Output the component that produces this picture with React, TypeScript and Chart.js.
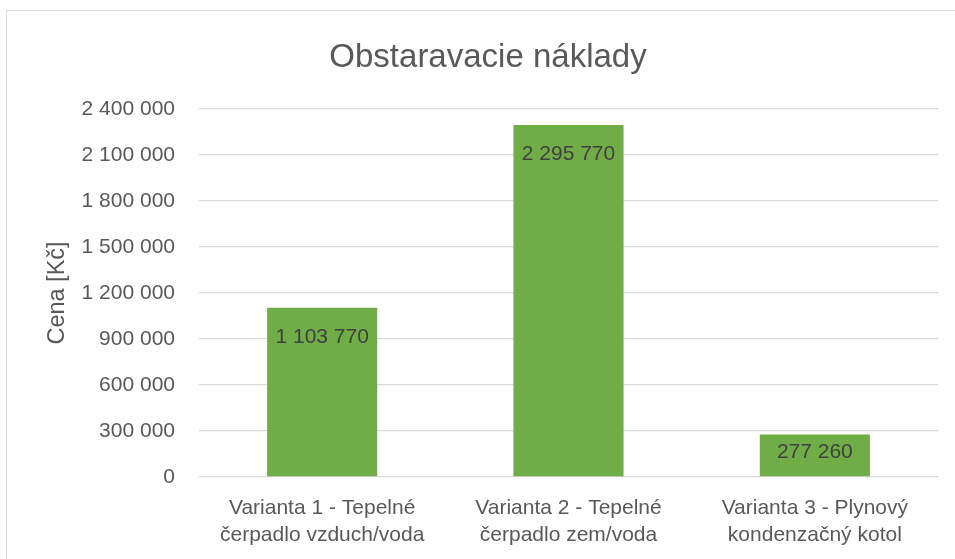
import React, { useEffect, useRef } from "react";
import { Chart, registerables } from "chart.js";

Chart.register(...registerables);

const categories: string[][] = [
  ["Varianta 1 - Tepelné", "čerpadlo vzduch/voda"],
  ["Varianta 2 - Tepelné", "čerpadlo zem/voda"],
  ["Varianta 3 - Plynový", "kondenzačný kotol"],
];
const values: number[] = [1103770, 2295770, 277260];
const yTicks: number[] = [0, 300000, 600000, 900000, 1200000, 1500000, 1800000, 2100000, 2400000];
const titleText = "Obstaravacie náklady";
const yAxisTitle = "Cena [Kč]";

const FONT = "'Liberation Sans', Arial, sans-serif";

function fmt(v: number): string {
  return String(Math.round(v)).replace(/\B(?=(\d{3})+(?!\d))/g, " ");
}

const decorPlugin = {
  id: "decor",
  beforeDraw(chart: any) {
    const ctx = chart.ctx;
    ctx.save();
    ctx.fillStyle = "#ffffff";
    ctx.fillRect(0, 0, chart.width, chart.height);
    ctx.strokeStyle = "#D9D9D9";
    ctx.lineWidth = 1;
    ctx.strokeRect(6.5, 10.5, chart.width + 10, chart.height + 10);
    ctx.fillStyle = "#595959";
    ctx.font = `33px ${FONT}`;
    ctx.textAlign = "center";
    ctx.textBaseline = "alphabetic";
    ctx.fillText(titleText, 488, 67);
    ctx.restore();
  },
  afterDatasetsDraw(chart: any) {
    const ctx = chart.ctx;
    const meta = chart.getDatasetMeta(0);
    ctx.save();
    ctx.fillStyle = "#404040";
    ctx.font = `21px ${FONT}`;
    ctx.textAlign = "center";
    ctx.textBaseline = "middle";
    meta.data.forEach((bar: any, i: number) => {
      const h = bar.base - bar.y;
      const off = Math.min(29, h * 0.42);
      ctx.fillText(fmt(values[i]), bar.x, bar.y + off);
    });
    ctx.restore();
  },
};

export default function App() {
  const ref = useRef<HTMLCanvasElement | null>(null);
  useEffect(() => {
    if (!ref.current) return;
    const chart = new Chart(ref.current, {
      type: "bar",
      data: {
        labels: categories,
        datasets: [
          {
            data: values,
            backgroundColor: "#70AD47",
            borderWidth: 0,
            barPercentage: 0.447,
            categoryPercentage: 1,
          },
        ],
      },
      options: {
        animation: false,
        responsive: false,
        maintainAspectRatio: false,
        layout: { padding: { top: 109, right: 17, left: 0, bottom: 0 } },
        plugins: {
          legend: { display: false },
          title: { display: false },
          tooltip: { enabled: false },
        },
        scales: {
          x: {
            grid: { display: false, drawTicks: false },
            border: { display: false },
            ticks: {
              color: "#595959",
              font: { family: FONT, size: 21, lineHeight: 1.27 },
              padding: 18,
              maxRotation: 0,
              autoSkip: false,
            },
            afterFit(scale: any) {
              scale.height = 82;
            },
          },
          y: {
            min: 0,
            max: 2400000,
            afterBuildTicks(scale: any) {
              scale.ticks = yTicks.map((v) => ({ value: v }));
            },
            grid: { color: "#D9D9D9", lineWidth: 1.3, drawTicks: false },
            border: { display: false },
            ticks: {
              color: "#595959",
              font: { family: FONT, size: 21 },
              padding: 24,
              callback: (v: any) => fmt(Number(v)),
            },
            title: {
              display: true,
              text: yAxisTitle,
              color: "#595959",
              font: { family: FONT, size: 23.5 },
              padding: { top: 43, bottom: 0 },
            },
            afterFit(scale: any) {
              scale.width = 199;
            },
          },
        },
      },
      plugins: [decorPlugin],
    });
    return () => chart.destroy();
  }, []);
  return (
    <div style={{ position: "absolute", left: 0, top: 0, width: 955, height: 559 }}>
      <canvas ref={ref} width={955} height={559} style={{ width: 955, height: 559 }} />
    </div>
  );
}
